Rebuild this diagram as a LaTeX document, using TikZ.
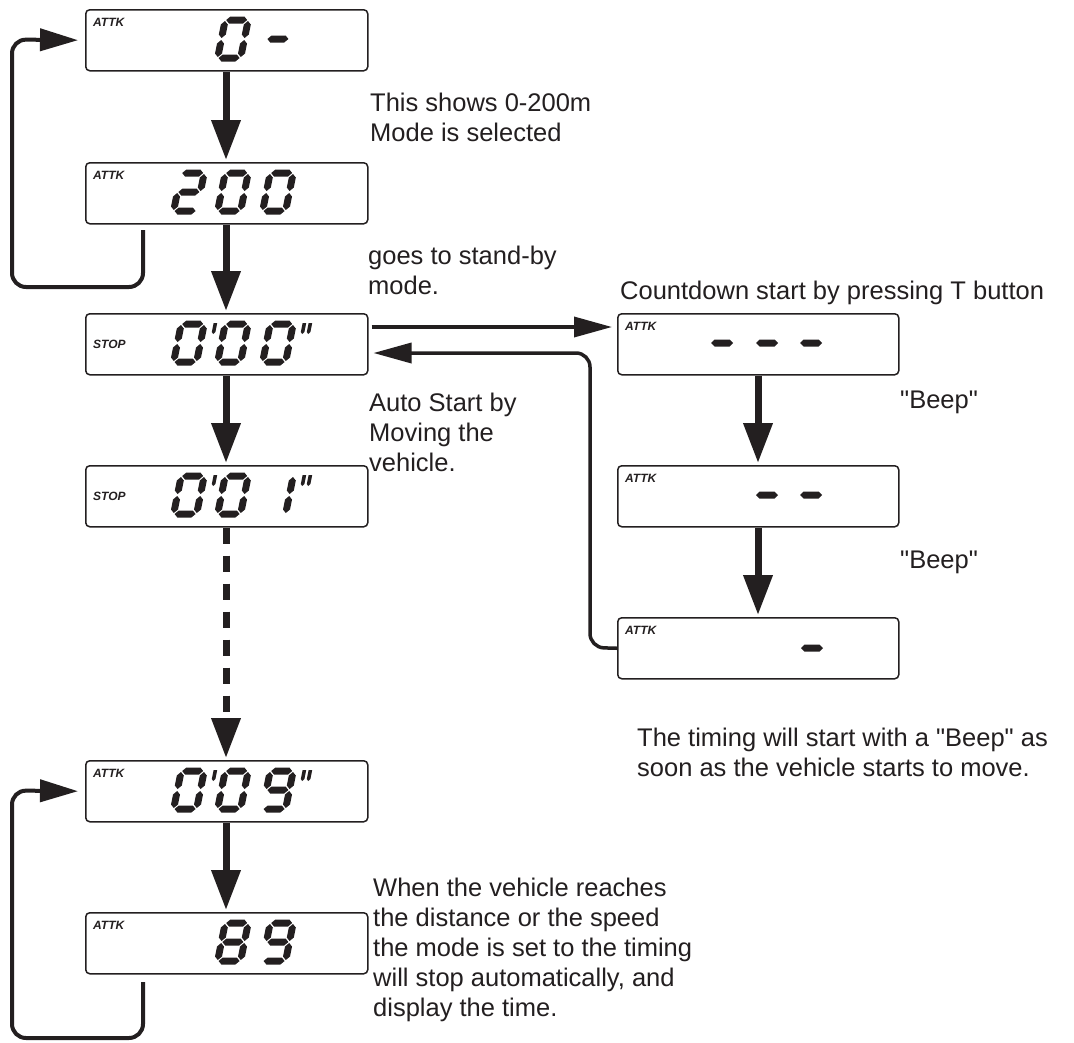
\documentclass[tikz,border=0pt]{standalone}
\usepackage{fontspec}
\setmainfont{Liberation Sans}[Ligatures=TeXOff]
\usetikzlibrary{arrows.meta,calc}
\definecolor{ink}{HTML}{231F20}
% segment geometry (local units, y up)
\def\segt{7}
\newcommand{\lcdH}[3]{\fill (#1-#3/2,#2) -- ++(\segt/2,\segt/2) -- ++(#3-\segt,0) -- ++(\segt/2,-\segt/2) -- ++(-\segt/2,-\segt/2) -- ++(-#3+\segt,0) -- cycle;}
\newcommand{\lcdV}[3]{\fill (#1,#2-#3/2) -- ++(\segt/2,\segt/2) -- ++(0,#3-\segt) -- ++(-\segt/2,\segt/2) -- ++(-\segt/2,-\segt/2) -- ++(0,-#3+\segt) -- cycle;}
\newcommand{\lcdsega}{\lcdH{14.5}{41}{21}}
\newcommand{\lcdsegb}{\lcdV{26}{31.5}{17}}
\newcommand{\lcdsegc}{\lcdV{26}{12.5}{17}}
\newcommand{\lcdsegd}{\lcdH{14.5}{3}{21}}
\newcommand{\lcdsege}{\lcdV{3}{12.5}{17}}
\newcommand{\lcdsegf}{\lcdV{3}{31.5}{17}}
\newcommand{\lcdsegg}{\lcdH{14.5}{22}{21}}
\newcommand{\lcdsegp}{\fill (-7,31) -- (-5.2,33) -- (-5.2,42) -- (-8.8,42) -- (-8.8,33) -- cycle;}
\newcommand{\lcdsegq}{\fill (37,31) -- (38.8,33) -- (38.8,42) -- (35.2,42) -- (35.2,33) -- cycle;
  \fill (43,31) -- (44.8,33) -- (44.8,42) -- (41.2,42) -- (41.2,33) -- cycle;}
\newcommand{\lcddigit}[3]{\begin{scope}[shift={(#1,#2)},yscale=-1,xslant=-0.2,ink]
  \foreach \s in {#3} {\csname lcdseg\s\endcsname}\end{scope}}
\tikzset{
  lcd/.style={draw=ink, line width=1.5pt, rounded corners=4pt, minimum width=282pt,
    minimum height=61pt, inner sep=0pt, anchor=north west},
  rlcd/.style={lcd, minimum width=281pt},
  bigarrow/.style={draw=ink, line width=7pt, -{Triangle[length=40pt,width=28pt]}, shorten >=2pt},
  loopline/.style={draw=ink, line width=4pt, rounded corners=14pt, -{Triangle[length=38pt,width=22pt]}, shorten >=7pt},
  conn/.style={draw=ink, line width=3.5pt, rounded corners=14pt, -{Triangle[length=38pt,width=20pt]}},
  txt/.style={anchor=north west, align=left, inner sep=0pt, text=ink, font=\fontsize{25.5}{30}\selectfont},
  tag/.style={inner sep=0pt, text=ink, font=\fontsize{12}{12}\selectfont\bfseries\itshape}
}
\begin{document}
\begin{tikzpicture}[x=1pt,y=-1pt]
\path[use as bounding box, fill=white] (0,0) rectangle (1074,1042);
% boxes
\node[lcd] (b1) at (85,9) {};
\node[lcd] (b2) at (85,162) {};
\node[lcd] (b3) at (85,313) {};
\node[lcd] (b4) at (85,465) {};
\node[lcd] (b5) at (85,760) {};
\node[lcd] (b6) at (85,912) {};
\node[rlcd] (r1) at (617,313) {};
\node[rlcd] (r2) at (617,465) {};
\node[rlcd] (r3) at (617,617) {};
% tags
\node[tag, anchor=north west] (t1) at ($(b1.north west)+(8,9)$) {ATTK};
\node[tag, anchor=north west] (t2) at ($(b2.north west)+(8,9)$) {ATTK};
\node[tag, anchor=west] (t3) at ($(b3.west)+(8,0)$) {STOP};
\node[tag, anchor=west] (t4) at ($(b4.west)+(8,0)$) {STOP};
\node[tag, anchor=north west] (t5) at ($(b5.north west)+(8,9)$) {ATTK};
\node[tag, anchor=north west] (t6) at ($(b6.north west)+(8,9)$) {ATTK};
\node[tag, anchor=north west] (t7) at ($(r1.north west)+(8,9)$) {ATTK};
\node[tag, anchor=north west] (t8) at ($(r2.north west)+(8,9)$) {ATTK};
\node[tag, anchor=north west] (t9) at ($(r3.north west)+(8,9)$) {ATTK};
% digits
\lcddigit{214}{61}{a,b,c,d,e,f}
\lcddigit{259}{61}{g}
\lcddigit{170}{214}{a,b,g,e,d}
\lcddigit{214}{214}{a,b,c,d,e,f}
\lcddigit{259}{214}{a,b,c,d,e,f}
\lcddigit{170}{365}{a,b,c,d,e,f}
\lcddigit{214}{365}{p,a,b,c,d,e,f}
\lcddigit{259}{365}{a,b,c,d,e,f,q}
\lcddigit{170}{517}{a,b,c,d,e,f}
\lcddigit{214}{517}{p,a,b,c,d,e,f}
\lcddigit{259}{517}{b,c,q}
\lcddigit{170}{812}{a,b,c,d,e,f}
\lcddigit{214}{812}{p,a,b,c,d,e,f}
\lcddigit{259}{812}{a,b,c,d,f,g,q}
\lcddigit{214}{964}{a,b,c,d,e,f,g}
\lcddigit{259}{964}{a,b,c,d,f,g}
% dashes in right boxes
\begin{scope}[ink]
\lcdH{722}{343}{22}\lcdH{767}{343}{22}\lcdH{811}{343}{22}
\lcdH{767}{495}{22}\lcdH{811}{495}{22}
\lcdH{812}{648}{22}
\end{scope}
% arrows
\coordinate (ax) at (226,0);
\coordinate (rx) at (758,0);
\draw[bigarrow] (b1.south -| ax) -- (b2.north -| ax);
\draw[bigarrow] (b2.south -| ax) -- (b3.north -| ax);
\draw[bigarrow] (b3.south -| ax) -- (b4.north -| ax);
\coordinate (dend) at (226,718);
\draw[draw=ink, line width=7pt, dash pattern=on 16pt off 12pt] (b4.south -| ax) -- (dend);
\draw[bigarrow] (dend) -- (b5.north -| ax);
\draw[bigarrow] (b5.south -| ax) -- (b6.north -| ax);
\draw[bigarrow] (r1.south -| rx) -- (r2.north -| rx);
\draw[bigarrow] (r2.south -| rx) -- (r3.north -| rx);
% loops
\coordinate (l1) at (143,230);
\draw[loopline] (l1) -- (143,287) -- (12,287) -- (12,39.5) -- (b1.west);
\coordinate (l2) at (143,982);
\draw[loopline] (l2) -- (143,1038) -- (12,1038) -- (12,790.5) -- (b5.west);
% horizontal connectors
\coordinate (hy) at (0,327);
\coordinate (ry) at (0,353);
\draw[conn, shorten <=3pt, shorten >=5pt] (b3.east |- hy) -- (r1.west |- hy);
\draw[conn, shorten >=5pt] (r3.west) -- (590,647.5) -- (590,353) -- (b3.east |- ry);
% texts
\node[txt] (x1) at (370,93) {This shows 0-200m\\Mode is selected};
\node[txt] (x2) at (368,246) {goes to stand-by\\mode.};
\node[txt] (x3) at (620,281) {Countdown start by pressing T button};
\node[txt] (x4) at (369,393) {Auto Start by\\Moving the\\vehicle.};
\node[txt] (x5) at (900,391) {"Beep"};
\node[txt] (x6) at (900,551) {"Beep"};
\node[txt] (x7) at (637,728) {The timing will start with a "Beep" as\\soon as the vehicle starts to move.};
\node[txt] (x8) at (373,878) {When the vehicle reaches\\the distance or the speed\\the mode is set to the timing\\will stop automatically, and\\display the time.};
\end{tikzpicture}
\end{document}
